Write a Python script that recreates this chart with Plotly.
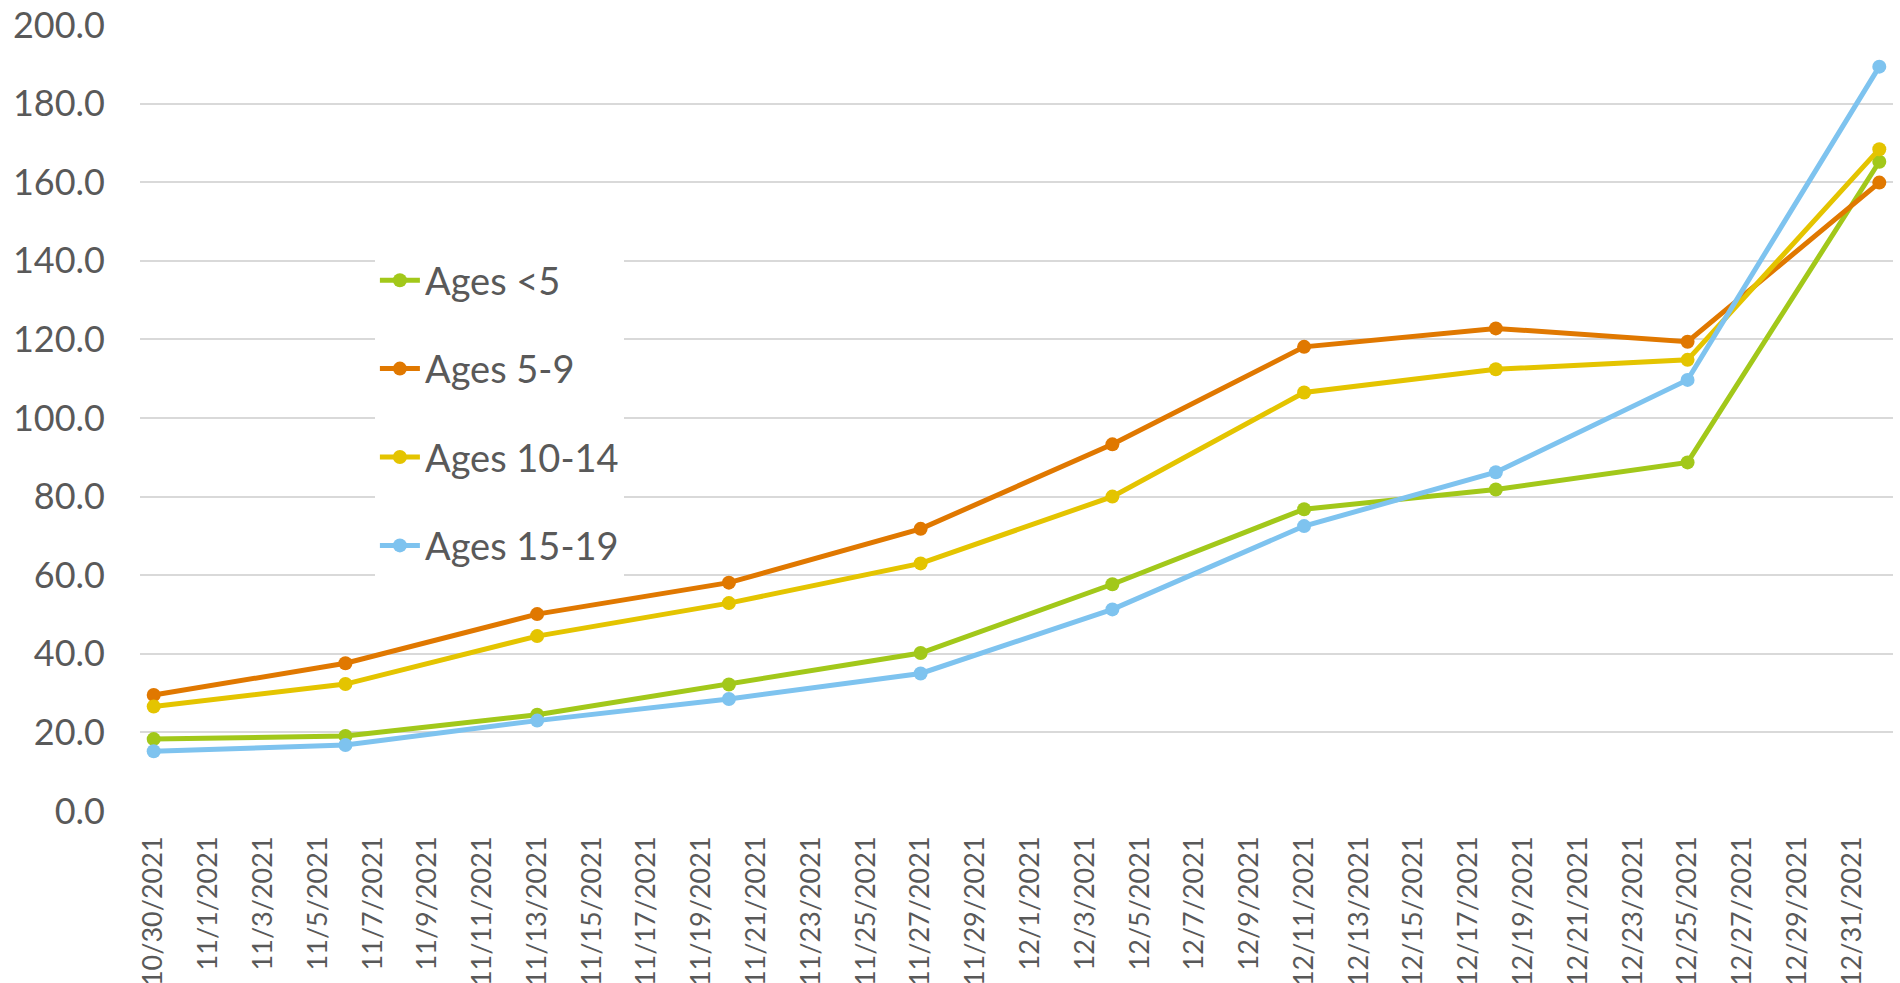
import plotly.graph_objects as go

# Data (weekly points)
dates = ["2021-10-30", "2021-11-06", "2021-11-13", "2021-11-20", "2021-11-27",
         "2021-12-04", "2021-12-11", "2021-12-18", "2021-12-25", "2022-01-01"]
ages_lt5 = [18.3, 19.1, 24.5, 32.2, 40.2, 57.7, 76.8, 81.8, 88.7, 165.2]
ages_5_9 = [29.5, 37.6, 50.1, 58.1, 71.8, 93.3, 118.1, 122.8, 119.4, 159.9]
ages_10_14 = [26.6, 32.3, 44.5, 52.9, 63.0, 80.0, 106.5, 112.4, 114.8, 168.4]
ages_15_19 = [15.2, 16.8, 23.0, 28.5, 35.0, 51.3, 72.5, 86.2, 109.7, 189.4]

series_names = ["Ages <5", "Ages 5-9", "Ages 10-14", "Ages 15-19"]
series_values = [ages_lt5, ages_5_9, ages_10_14, ages_15_19]
colors = ["#A2C81A", "#E07800", "#E4C400", "#7EC3EF"]

tick_dates = ["2021-10-30", "2021-11-01", "2021-11-03", "2021-11-05", "2021-11-07",
              "2021-11-09", "2021-11-11", "2021-11-13", "2021-11-15", "2021-11-17",
              "2021-11-19", "2021-11-21", "2021-11-23", "2021-11-25", "2021-11-27",
              "2021-11-29", "2021-12-01", "2021-12-03", "2021-12-05", "2021-12-07",
              "2021-12-09", "2021-12-11", "2021-12-13", "2021-12-15", "2021-12-17",
              "2021-12-19", "2021-12-21", "2021-12-23", "2021-12-25", "2021-12-27",
              "2021-12-29", "2021-12-31"]
tick_labels = ["10/30/2021", "11/1/2021", "11/3/2021", "11/5/2021", "11/7/2021",
               "11/9/2021", "11/11/2021", "11/13/2021", "11/15/2021", "11/17/2021",
               "11/19/2021", "11/21/2021", "11/23/2021", "11/25/2021", "11/27/2021",
               "11/29/2021", "12/1/2021", "12/3/2021", "12/5/2021", "12/7/2021",
               "12/9/2021", "12/11/2021", "12/13/2021", "12/15/2021", "12/17/2021",
               "12/19/2021", "12/21/2021", "12/23/2021", "12/25/2021", "12/27/2021",
               "12/29/2021", "12/31/2021"]
y_ticks = [0, 20, 40, 60, 80, 100, 120, 140, 160, 180, 200]

FONT = "Century Gothic, URW Gothic, Lato, sans-serif"
TXT = "#595959"

fig = go.Figure()
for i, (name, vals, col) in enumerate(zip(series_names, series_values, colors)):
    fig.add_trace(go.Scatter(
        x=dates, y=vals, name=name, mode="lines+markers",
        line=dict(color=col, width=5),
        marker=dict(color=col, size=14),
        legendgroup=f"g{i}",
    ))

fig.update_layout(
    width=1900, height=983,
    margin=dict(l=140, r=7, t=25, b=172, autoexpand=False),
    paper_bgcolor="white", plot_bgcolor="white",
    font=dict(family=FONT, color=TXT),
    showlegend=True,
    legend=dict(
        x=0.134, y=0.715, xanchor="left", yanchor="top",
        bgcolor="white", borderwidth=0,
        font=dict(size=38, color=TXT, family=FONT),
        traceorder="grouped", tracegroupgap=36,
        itemwidth=40,
    ),
    xaxis=dict(
        type="date",
        range=["2021-10-29 12:00", "2022-01-01 12:00"],
        tickvals=tick_dates, ticktext=tick_labels,
        tickangle=-90,
        tickfont=dict(size=27, color=TXT, family=FONT),
        showgrid=False, zeroline=False, showline=False,
        ticks="", ticklabelstandoff=19, automargin=False,
    ),
    yaxis=dict(
        range=[0, 200],
        tickvals=y_ticks, tickformat=".1f",
        tickfont=dict(size=36, color=TXT, family=FONT),
        showgrid=True, gridcolor="#D9D9D9", gridwidth=2,
        zeroline=False, showline=False,
        ticks="", ticklabelstandoff=34, automargin=False,
    ),
)

fig.write_html("out.html", config={"displayModeBar": False},
               post_script="document.body.style.margin='0';document.body.style.overflow='hidden';")
